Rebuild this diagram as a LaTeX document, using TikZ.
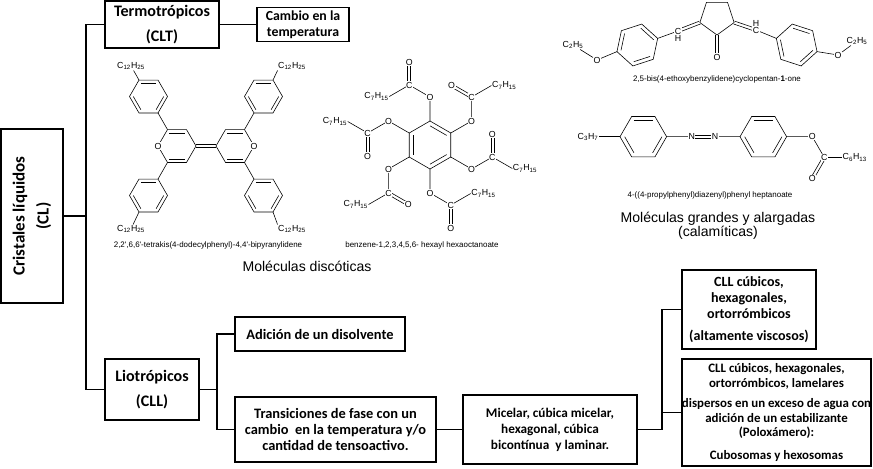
\documentclass[tikz,border=0pt]{standalone}
\usepackage{fontspec}
\setmainfont{Carlito}
\newfontfamily\quim{Liberation Sans}
\usetikzlibrary{calc}

\newcommand{\hexag}[4]{%
    \coordinate (#1c) at (#2);
    \foreach \k in {0,...,5}{\coordinate (#1\k) at ($(#1c)+(#4+60*\k:#3)$);}
    \draw[enlace] (#10) -- (#11) -- (#12) -- (#13) -- (#14) -- (#15) -- cycle;
}
\newcommand{\dentro}[3]{\draw[enlace] ($(#1#2)!.2!(#1c)$) -- ($(#1#3)!.2!(#1c)$);}
\newcommand{\doble}[2]{\draw[enlace] ($(#1)!1.3pt!90:(#2)$) -- ($(#2)!1.3pt!-90:(#1)$) ($(#1)!1.3pt!-90:(#2)$) -- ($(#2)!1.3pt!90:(#1)$);}

\begin{document}
\begin{tikzpicture}[x=0.03cm, y=-0.03cm,
    caja/.style={draw, line width=1.2pt, align=center, inner sep=0pt, font=\bfseries\fontsize{12.3}{13.6}\selectfont},
    grande/.style={font=\bfseries\fontsize{13.7}{21}\selectfont},
    rama/.style={line width=1.2pt},
    enlace/.style={line width=0.5pt},
    atomo/.style={fill=white, inner sep=0.4pt, font=\quim\fontsize{7.5}{8}\selectfont},
    nombre/.style={inner sep=0pt, font=\quim\fontsize{6.8}{8}\selectfont},
    titulo/.style={inner sep=0pt, align=center, font=\quim\fontsize{12}{11.5}\selectfont}]
    \useasboundingbox (0,0) rectangle (873,468);

    \node[caja, rotate=90, font=\bfseries\fontsize{14.5}{20.5}\selectfont, minimum width=5.22cm, minimum height=1.86cm] (cl) at (32,216) {Cristales líquidos\\(CL)};
    \node[caja, grande, minimum width=3.42cm, minimum height=1.41cm] (clt) at (162,24.5) {Termotrópicos\\(CLT)};
    \node[caja, font=\bfseries\fontsize{11.8}{13.6}\selectfont, minimum width=2.76cm, minimum height=1.02cm] (cam) at (303,24.5) {Cambio en la\\temperatura};
    \node[caja, grande, minimum width=2.82cm, minimum height=1.83cm] (cll) at (152,389.5) {Liotrópicos\\(CLL)};
    \node[caja, minimum width=5.1cm, minimum height=1.02cm] (adi) at (320,334) {Adición de un disolvente};
    \node[caja, minimum width=6.03cm, minimum height=1.95cm] (tra) at (335.5,429.5) {Transiciones de fase con un\\cambio \ en la temperatura y/o\\cantidad de tensoactivo.};
    \node[caja, font=\bfseries\fontsize{11.3}{13.6}\selectfont, minimum width=5.22cm, minimum height=2.07cm] (mic) at (550,429.5) {Micelar, cúbica micelar,\\hexagonal, cúbica\\bicontínua \ y laminar.};
    \node[caja, font=\bfseries\fontsize{12}{13.6}\selectfont, minimum width=4.02cm, minimum height=2.37cm] (cub) at (749,309.5) {CLL cúbicos,\\hexagonales,\\ortorrómbicos\\[5pt](altamente viscosos)};
    \node[caja, font=\bfseries\fontsize{11}{12.5}\selectfont, minimum width=5.67cm, minimum height=3.21cm] (dis) at (776.5,412.5) {CLL cúbicos, hexagonales,\\ortorrómbicos, lamelares\\[5pt]dispersos en un exceso de agua con\\adición de un estabilizante\\(Poloxámero):\\[7pt]Cubosomas y hexosomas};

    \coordinate (tronco) at (86,216);
    \coordinate (r1) at (217,389.5);
    \coordinate (r2) at (662,429.5);
    \draw[rama] (cl) -- (tronco);
    \draw[rama] (clt.west) -| (tronco) |- (cll.west);
    \draw[rama] (clt) -- (cam);
    \draw[rama] (cll) -- (r1);
    \draw[rama] (adi.west) -| (r1) |- (tra.west);
    \draw[rama] (tra) -- (mic);
    \draw[rama] (mic) -- (r2);
    \draw[rama] (cub.west) -| (r2);
    \draw[rama] (dis.west) -| (r2);

    \hexag{pl}{177,146}{19}{0}
    \hexag{pr}{235,146}{19}{0}
    \hexag{fa}{148.5,96.5}{19}{0}
    \hexag{fb}{263.5,96.5}{19}{0}
    \hexag{fc}{148.5,195.5}{19}{0}
    \hexag{fd}{263.5,195.5}{19}{0}
    \dentro{pl}{4}{5} \dentro{pl}{1}{2} \dentro{pr}{4}{5} \dentro{pr}{1}{2}
    \foreach \an in {fa,fb,fc,fd} {\dentro{\an}{0}{1} \dentro{\an}{2}{3} \dentro{\an}{4}{5}}
    \draw[enlace] (pl4) -- (fa1) (pr5) -- (fb2) (pl2) -- (fc5) (pr1) -- (fd4);
    \doble{pl0}{pr3}
    \node[atomo] (opl) at (pl3) {O};
    \node[atomo] (opr) at (pr0) {O};
    \node[atomo] (dod1) at (131,66) {C\textsubscript{12}H\textsubscript{25}};
    \node[atomo] (dod2) at (292,66) {C\textsubscript{12}H\textsubscript{25}};
    \node[atomo] (dod3) at (131,229) {C\textsubscript{12}H\textsubscript{25}};
    \node[atomo] (dod4) at (292,229) {C\textsubscript{12}H\textsubscript{25}};
    \draw[enlace] (fa4) -- (dod1) (fb5) -- (dod2.south west) (fc2) -- (dod3) (fd1) -- (dod4.north west);
    \node[nombre] (nom1) at (208,245) {2,2',6,6'-tetrakis(4-dodecylphenyl)-4,4'-bipyranylidene};
    \node[titulo] (tit1) at (307,266) {Moléculas discóticas};

    \hexag{bz}{430,145}{24}{30}
    \dentro{bz}{2}{3} \dentro{bz}{4}{5} \dentro{bz}{0}{1}
    \foreach \k/\ka/\kb/\kc/\an in {4/270/270/150/east, 5/330/210/330/west, 0/30/270/30/west, 1/90/90/330/west, 2/150/30/150/east, 3/210/90/210/east} {
        \coordinate (eo\k) at ($(bz\k)+(\ka:24)$);
        \coordinate (ec\k) at ($(eo\k)+(\ka-60:24)$);
        \coordinate (ed\k) at ($(ec\k)+(\kb:23)$);
        \coordinate (er\k) at ($(ec\k)+(\kc:23)$);
        \draw[enlace] (bz\k) -- (eo\k) -- (ec\k) -- (er\k);
        \doble{ec\k}{ed\k}
        \node[atomo] (xo\k) at (eo\k) {O};
        \node[atomo] (xc\k) at (ec\k) {C};
        \node[atomo] (xd\k) at (ed\k) {O};
        \node[atomo, anchor=\an] (xr\k) at (er\k) {C\textsubscript{7}H\textsubscript{15}};
    }
    \node[nombre] (nom2) at (422,245) {benzene-1,2,3,4,5,6- hexayl hexaoctanoate};

    \foreach \k in {0,...,4} {\coordinate (cp\k) at ($(717,17)+(90+72*\k:18)$);}
    \draw[enlace] (cp0) -- (cp1) -- (cp2) -- (cp3) -- (cp4) -- cycle;
    \coordinate (cpo) at (717,57);
    \coordinate (chl) at (678,31);
    \coordinate (chr) at (756,30);
    \doble{cp0}{cpo}
    \doble{cp1}{chl}
    \doble{cp4}{chr}
    \hexag{ql}{637.3,45}{21.4}{-78}
    \hexag{qr}{796.7,45}{21.4}{258}
    \foreach \an in {ql,qr} {\dentro{\an}{0}{1} \dentro{\an}{2}{3} \dentro{\an}{4}{5}}
    \draw[enlace] (ql1) -- (chl) (qr5) -- (chr);
    \node[atomo] (xcpo) at (cpo) {O};
    \node[atomo] (xchl) at (chl) {C};
    \node[atomo, fill=none] (xhl) at (678,38) {H};
    \node[atomo] (xchr) at (chr) {C};
    \node[atomo, fill=none] (xhr) at (756,23) {H};
    \node[atomo] (xol) at (597,60) {O};
    \node[atomo] (xor) at (838,55) {O};
    \node[atomo] (etl) at (573,45) {C\textsubscript{2}H\textsubscript{5}};
    \node[atomo] (etr) at (857,41) {C\textsubscript{2}H\textsubscript{5}};
    \draw[enlace] (ql4) -- (xol) -- (etl) (qr2) -- (xor) -- (etr);
    \node[nombre] (nom3) at (717,79) {2,5-bis(4-ethoxybenzylidene)cyclopentan-\textbf{1}-one};

    \hexag{na}{643.3,136.7}{23.3}{0}
    \hexag{nb}{763.3,136.7}{23.3}{0}
    \foreach \an in {na,nb} {\dentro{\an}{0}{1} \dentro{\an}{2}{3} \dentro{\an}{4}{5}}
    \coordinate (an1) at (691.7,136.7);
    \coordinate (an2) at (715,136.7);
    \coordinate (ao1) at (812.3,136.7);
    \coordinate (ac) at (824.3,157.5);
    \coordinate (ao2) at (812.3,178.3);
    \draw[enlace] (na0) -- (an1) (an2) -- (nb3) (nb0) -- (ao1) -- (ac);
    \doble{an1}{an2}
    \doble{ac}{ao2}
    \node[atomo] (xc3) at (588,136.7) {C\textsubscript{3}H\textsubscript{7}};
    \node[atomo] (xn1) at (an1) {N};
    \node[atomo] (xn2) at (an2) {N};
    \node[atomo] (xao1) at (ao1) {O};
    \node[atomo] (xac) at (ac) {C};
    \node[atomo] (xao2) at (ao2) {O};
    \node[atomo, anchor=west] (xc6) at (842,157.5) {C\textsubscript{6}H\textsubscript{13}};
    \draw[enlace] (xc3) -- (na3) (xac) -- (xc6);
    \node[nombre] (nom4) at (710,195) {4-((4-propylphenyl)diazenyl)phenyl heptanoate};
    \node[titulo] (tit2) at (718,226) {Moléculas grandes y alargadas\\(calamíticas)};
\end{tikzpicture}
\end{document}
